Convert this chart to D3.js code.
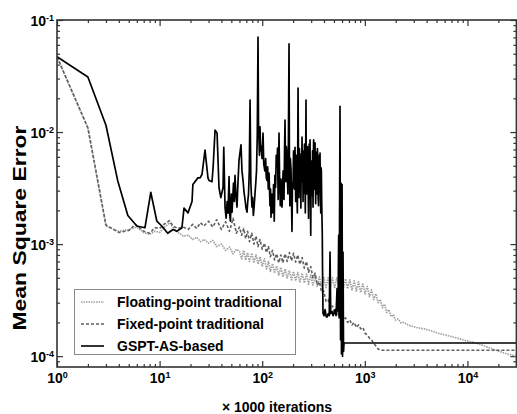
<!DOCTYPE html>
<html><head><meta charset="utf-8">
<script src="https://cdn.jsdelivr.net/npm/d3@7"></script>
<style>
body{margin:0;background:#fff}
svg{display:block}
text{font-family:"Liberation Sans",Arial,sans-serif;font-weight:bold;fill:#000}
</style>
</head><body>
<svg id="c" width="517" height="414"></svg>
<script>
// ---- data: [iterations (x1000), mean square error] ----
const floatingPoint = [
[1,0.047],[2,0.0109],[3,1.45e-3],[4,1.3e-3],[5,1.35e-3],[6,1.42e-3],[7,1.27e-3],[8,1.22e-3],[9,1.3e-3],[10,1.27e-3],
[11,1.4e-3],[12.5,1.55e-3],[14,1.35e-3],[15.5,1.25e-3],[17,1.18e-3],[19,1.2e-3],[21,1.1e-3],[23,1.15e-3],[25,1.05e-3],[27,1.1e-3],
[30,1.02e-3],[33,1.08e-3],[36,0.95e-3],[40,1.0e-3],[44,0.88e-3],[48,0.94e-3],[52,0.82e-3],[56,0.9e-3],
[60,0.86e-3],[63,0.74e-3],[66,0.88e-3],[69,0.72e-3],[72,0.84e-3],[75,0.7e-3],[79,0.83e-3],[83,0.68e-3],[87,0.8e-3],[91,0.66e-3],
[95,0.77e-3],[100,0.63e-3],[105,0.74e-3],[110,0.6e-3],[115,0.7e-3],[120,0.57e-3],[126,0.67e-3],[132,0.55e-3],[138,0.64e-3],[145,0.53e-3],
[152,0.62e-3],[159,0.51e-3],[167,0.6e-3],[175,0.5e-3],[184,0.58e-3],[193,0.48e-3],[202,0.57e-3],[212,0.47e-3],[222,0.56e-3],[233,0.46e-3],
[245,0.55e-3],[257,0.45e-3],[270,0.54e-3],[283,0.44e-3],[297,0.53e-3],[312,0.43e-3],[328,0.52e-3],[344,0.42e-3],[361,0.51e-3],[379,0.42e-3],
[398,0.51e-3],[418,0.41e-3],[439,0.5e-3],[461,0.41e-3],[484,0.5e-3],[508,0.41e-3],[533,0.5e-3],[560,0.41e-3],[588,0.49e-3],[617,0.4e-3],
[648,0.49e-3],[680,0.4e-3],[714,0.48e-3],[750,0.39e-3],[788,0.47e-3],[827,0.38e-3],[868,0.46e-3],[911,0.37e-3],[957,0.44e-3],[1005,0.36e-3],
[1055,0.42e-3],[1108,0.34e-3],[1163,0.39e-3],[1221,0.32e-3],[1282,0.36e-3],[1346,0.3e-3],[1413,0.32e-3],[1484,0.27e-3],[1558,0.29e-3],[1636,0.245e-3],
[1718,0.26e-3],[1804,0.225e-3],[1894,0.235e-3],[1989,0.21e-3],[2100,0.215e-3],[2250,0.198e-3],[2400,0.2e-3],[2700,0.188e-3],[3200,0.18e-3],[3800,0.175e-3],
[4300,0.17e-3],[5200,0.16e-3],[6500,0.152e-3],[7900,0.145e-3],[9500,0.138e-3],[12500,0.13e-3],[15500,0.121e-3],[19500,0.112e-3],[24000,0.105e-3],[30000,0.1e-3]
];
const fixedPoint = [
[1,0.047],[2,0.0109],[3,1.48e-3],[4,1.27e-3],[5,1.32e-3],[5.8,1.5e-3],[7,1.3e-3],[8,1.25e-3],[9,1.4e-3],[10,1.38e-3],
[11,1.5e-3],[12.5,1.62e-3],[13.5,1.45e-3],[15,1.38e-3],[17,1.42e-3],[19,1.35e-3],[21,1.5e-3],[23,1.38e-3],[25,1.55e-3],[27,1.45e-3],
[30,1.6e-3],[33,1.42e-3],[36,1.65e-3],[40,1.35e-3],[44,1.58e-3],[48,1.3e-3],[52,1.7e-3],[56,1.25e-3],
[60,1.42e-3],[63,1.2e-3],[66,1.38e-3],[69,1.12e-3],[72,1.3e-3],[75,1.05e-3],[79,1.25e-3],[83,1.0e-3],[87,1.18e-3],[91,0.95e-3],
[95,1.1e-3],[100,0.9e-3],[105,1.02e-3],[110,0.84e-3],[115,0.95e-3],[120,0.77e-3],[126,0.88e-3],[132,0.72e-3],[138,0.82e-3],[145,0.68e-3],
[152,0.8e-3],[159,0.68e-3],[167,0.82e-3],[175,0.7e-3],[184,0.84e-3],[193,0.71e-3],[202,0.83e-3],[212,0.69e-3],[222,0.8e-3],[233,0.66e-3],
[245,0.76e-3],[257,0.61e-3],[270,0.7e-3],[283,0.56e-3],[297,0.63e-3],[312,0.5e-3],[328,0.55e-3],[344,0.43e-3],[361,0.46e-3],[379,0.37e-3],
[398,0.38e-3],[418,0.31e-3],[439,0.32e-3],[461,0.27e-3],[484,0.28e-3],[508,0.24e-3],[533,0.255e-3],[560,0.225e-3],[588,0.235e-3],[617,0.21e-3],
[648,0.22e-3],[680,0.2e-3],[714,0.21e-3],[750,0.19e-3],[788,0.2e-3],[827,0.18e-3],[868,0.19e-3],[911,0.175e-3],[957,0.18e-3],[1005,0.16e-3],
[1055,0.155e-3],[1108,0.145e-3],[1163,0.14e-3],[1221,0.13e-3],[1282,0.123e-3],[1346,0.116e-3],[1400,0.113e-3],[30000,0.113e-3]
];
const gsptBased = [
[1,0.047],[2,0.031],[3,0.0115],[3.9,0.0037],[4.6,0.0022],[4.9,0.0018],[6,0.00145],[7.2,0.0014],[8.2,0.0029],[9.4,0.0016],
[10.5,0.00145],[12,0.00125],[13.5,0.00135],[14.7,0.0013],[16.5,0.0014],[17.3,0.0021],[18.9,0.0019],[20.7,0.0024],[21.1,0.0034],[23.6,0.0039],
[24.8,0.0039],[25.9,0.0042],[27.7,0.0069],[29.6,0.0039],[30.3,0.0037],[32.4,0.0036],[33.2,0.0048],[34.7,0.0104],[36.3,0.0098],[37.9,0.0032],
[39.5,0.0026],[41.5,0.0032],[42.2,0.0073],[43.4,0.00214],[44.5,0.0017],[45.5,0.0024],[46.4,0.00189],[47.5,0.004],[48.3,0.0018],[49,0.0016],
[50,0.0028],[50.8,0.00193],[52.5,0.0035],[53.4,0.0024],[54.3,0.0041],[55.5,0.0027],[56.8,0.00214],[58,0.0035],[59.4,0.0056],[62.1,0.0077],
[63.5,0.0045],[65,0.0037],[66.5,0.0029],[68,0.0025],[69.5,0.0021],[71.1,0.00193],[72.3,0.0024],[73.5,0.0028],[74.8,0.0045],[76.1,0.0193],
[77.5,0.0035],[79.5,0.00214],[80.5,0.0026],[82,0.0018],[83.5,0.0022],[85.1,0.00285],[86.5,0.0035],[88,0.0045],[89.5,0.0095],[91,0.0705],
[92,0.012],[93,0.0085],[94,0.0062],[95.2,0.0111],[96.5,0.0068],[98,0.0075],[99.5,0.0058],[101.8,0.0098],[103.5,0.0052],[106,0.0045],
[108,0.0058],[109.5,0.0039],[111.4,0.0037],[113,0.0049],[114.5,0.0031],[116.5,0.0043],[118,0.0029],[119,0.0022],[120.5,0.0031],[121.8,0.00174],
[123,0.0026],[124,0.0028],[125.5,0.0019],[127.4,0.00214],[129,0.0034],[131,0.0016],[133,0.0041],[135,0.0032],[137,0.0062],[139.4,0.0049],
[141,0.0072],[143,0.0025],[144.5,0.0055],[145.8,0.0098],[147.5,0.0041],[150,0.0022],[152,0.0038],[154,0.0025],[156,0.00214],[158,0.0035],
[160,0.0045],[161.5,0.0028],[163,0.0025],[165,0.0068],[166.8,0.0128],[168.5,0.0052],[170,0.0036],[172,0.0074],[174.5,0.0056],[176,0.0038],
[178,0.0028],[180,0.0085],[182.5,0.0611],[184,0.0065],[186,0.0022],[188,0.0058],[190.9,0.0046],[193,0.0024],[195,0.0013],[197,0.0035],
[199.6,0.0032],[202,0.0068],[204,0.0055],[206,0.0031],[208.8,0.0073],[210.5,0.0038],[212,0.0024],[214,0.0062],[216,0.0042],[218,0.0027],
[220,0.0019],[221.5,0.0048],[223.4,0.0247],[225.5,0.0058],[228,0.0026],[230.5,0.0071],[233.6,0.0037],[236,0.0058],[238,0.0021],[240.5,0.0064],
[242.5,0.0042],[244.3,0.009],[246.5,0.0036],[248,0.0068],[250,0.0024],[252.5,0.0055],[255.5,0.00285],[258,0.0078],[260,0.0065],[261.5,0.0033],
[263,0.0019],[265,0.0058],[267.2,0.0193],[268.5,0.0045],[270,0.0028],[271.5,0.0069],[273.3,0.0032],[275.5,0.0074],[278,0.0061],[280.5,0.0029],
[283,0.0017],[285,0.0052],[287,0.0078],[289.5,0.0037],[292.3,0.0085],[294.5,0.0029],[297,0.0012],[299.5,0.0041],[302,0.0055],[304.5,0.0033],
[307,0.0027],[309.5,0.0068],[312.7,0.00214],[315,0.0057],[317,0.0085],[319.5,0.0036],[322,0.0031],[324.5,0.0072],[327,0.008],[329.5,0.0034],
[332,0.0023],[334.5,0.0059],[337,0.0066],[339.5,0.0028],[342,0.00285],[345,0.0071],[348,0.0058],[351,0.0026],[354,0.0022],[357,0.0053],
[360,0.0062],[363,0.0031],[365.8,0.0065],[369,0.0029],[372,0.0019],[374.5,0.0048],[377,0.0045],[380,0.0024],[382.6,0.00164],[385,0.0012],
[387,0.0006],[391.3,2.42e-4],[400,2.3e-4],[410,2.6e-4],[420,2.25e-4],[428,2.23e-4],[440,2.4e-4],[450,2.3e-4],[458,8.5e-4],[465,2.4e-4],
[479,2.5e-4],[490,2.3e-4],[500,2.4e-4],[512,2.6e-4],[524,2.3e-4],[536,4e-4],[548,2.5e-4],[556,1.2e-3],[562,2.2e-4],[573,0.017],
[580,1.4e-4],[586,0.0035],[592,1.05e-4],[600,0.0034],[606,1.0e-4],[613,8.5e-4],[620,1.1e-4],[627,1.31e-4],[30000,1.31e-4]
];
const seriesNames = ["Floating-point traditional","Fixed-point traditional","GSPT-AS-based"];
const xTickExponents = [0,1,2,3,4];
const yTickExponents = [-1,-2,-3,-4];
const xTitle = "\u00d7 1000 iterations";
const yTitle = "Mean Square Error";

// ---- layout ----
const L=57, T=20, R=516.4, B=367;
const svg = d3.select("#c");
const x = d3.scaleLog().domain([1,3e4]).range([L,R]);
const y = d3.scaleLog().domain([8e-5,0.1]).range([B,T]);

const xMajor = xTickExponents.map(e=>Math.pow(10,e));
const yMajor = yTickExponents.map(e=>Math.pow(10,e));
const xMinor=[]; for(let e=0;e<=4;e++) for(let k=2;k<=9;k++){const v=k*Math.pow(10,e); if(v<3e4) xMinor.push(v);}
const yMinor=[9e-5]; for(let e=-4;e<=-2;e++) for(let k=2;k<=9;k++) yMinor.push(k*Math.pow(10,e));

const axisCol="#333";
function styleAxis(g){ g.select(".domain").remove(); g.selectAll("line").attr("stroke",axisCol).attr("stroke-width",1.2); }
function sup(sel){
  sel.each(function(d){
    const t=d3.select(this); const e=Math.round(Math.log10(d));
    t.text(""); t.append("tspan").text("10");
    t.append("tspan").attr("dy","-0.55em").attr("font-size","9px").text(e);
  });
}
// bottom
const gB = svg.append("g").attr("transform",`translate(0,${B})`)
  .call(d3.axisBottom(x).tickValues(xMajor).tickSize(-6).tickPadding(6));
gB.selectAll("text").attr("font-size","14px").attr("dy","0.71em").call(sup);
styleAxis(gB);
svg.append("g").attr("transform",`translate(0,${B})`).call(d3.axisBottom(x).tickValues(xMinor).tickSize(-3).tickFormat("")).call(styleAxis);
// top
svg.append("g").attr("transform",`translate(0,${T})`).call(d3.axisTop(x).tickValues(xMajor).tickSize(-6).tickFormat("")).call(styleAxis);
svg.append("g").attr("transform",`translate(0,${T})`).call(d3.axisTop(x).tickValues(xMinor).tickSize(-3).tickFormat("")).call(styleAxis);
// left
const gL = svg.append("g").attr("transform",`translate(${L},0)`)
  .call(d3.axisLeft(y).tickValues(yMajor).tickSize(-6).tickPadding(3));
gL.selectAll("text").attr("font-size","14px").attr("text-anchor","end").attr("dy","0.36em").call(sup);
styleAxis(gL);
gL.selectAll("text").attr("x",-3);
svg.append("g").attr("transform",`translate(${L},0)`).call(d3.axisLeft(y).tickValues(yMinor).tickSize(-3).tickFormat("")).call(styleAxis);
// right
svg.append("g").attr("transform",`translate(${R},0)`).call(d3.axisRight(y).tickValues(yMajor).tickSize(-6).tickFormat("")).call(styleAxis);
svg.append("g").attr("transform",`translate(${R},0)`).call(d3.axisRight(y).tickValues(yMinor).tickSize(-3).tickFormat("")).call(styleAxis);

// clip
svg.append("clipPath").attr("id","clip").append("rect").attr("x",L).attr("y",T).attr("width",R-L).attr("height",B-T);
const line = d3.line().x(d=>x(d[0])).y(d=>y(d[1]));
const plot = svg.append("g").attr("clip-path","url(#clip)");
const styles = [
  {data:floatingPoint, color:"#a0a0a0", w:1.7, lw:1.3, dash:"1.5,1"},
  {data:fixedPoint, color:"#5e5e5e", w:1.6, lw:1.3, dash:"3,2"},
  {data:gsptBased, color:"#000", w:1.7, lw:1.6, dash:null}
];
styles.forEach(s=>{
  plot.append("path").datum(s.data).attr("d",line).attr("fill","none")
    .attr("stroke",s.color).attr("stroke-width",s.w).attr("stroke-dasharray",s.dash).attr("stroke-linejoin","round");
});

// frame
svg.append("rect").attr("x",L).attr("y",T).attr("width",R-L).attr("height",B-T)
  .attr("fill","none").attr("stroke",axisCol).attr("stroke-width",1.6);

// titles
svg.append("text").attr("x",277).attr("y",412).attr("text-anchor","middle").attr("font-size","14px").text(xTitle);
svg.append("text").attr("transform","translate(26,228) rotate(-90)").attr("text-anchor","middle")
  .attr("font-size","18px").attr("textLength",205).attr("lengthAdjust","spacingAndGlyphs").text(yTitle);

// legend
const lg = svg.append("g");
lg.append("rect").attr("x",74.5).attr("y",289.5).attr("width",221).attr("height",65).attr("fill","#fff").attr("stroke","#888").attr("stroke-width",1);
styles.forEach((s,i)=>{
  const yy = 302 + i*22;
  lg.append("line").attr("x1",81).attr("x2",104).attr("y1",yy).attr("y2",yy)
    .attr("stroke",s.color).attr("stroke-width",s.lw).attr("stroke-dasharray",s.dash);
  lg.append("text").attr("x",117).attr("y",yy+4.5).attr("font-size","14px").text(seriesNames[i]);
});
</script>
</body></html>
